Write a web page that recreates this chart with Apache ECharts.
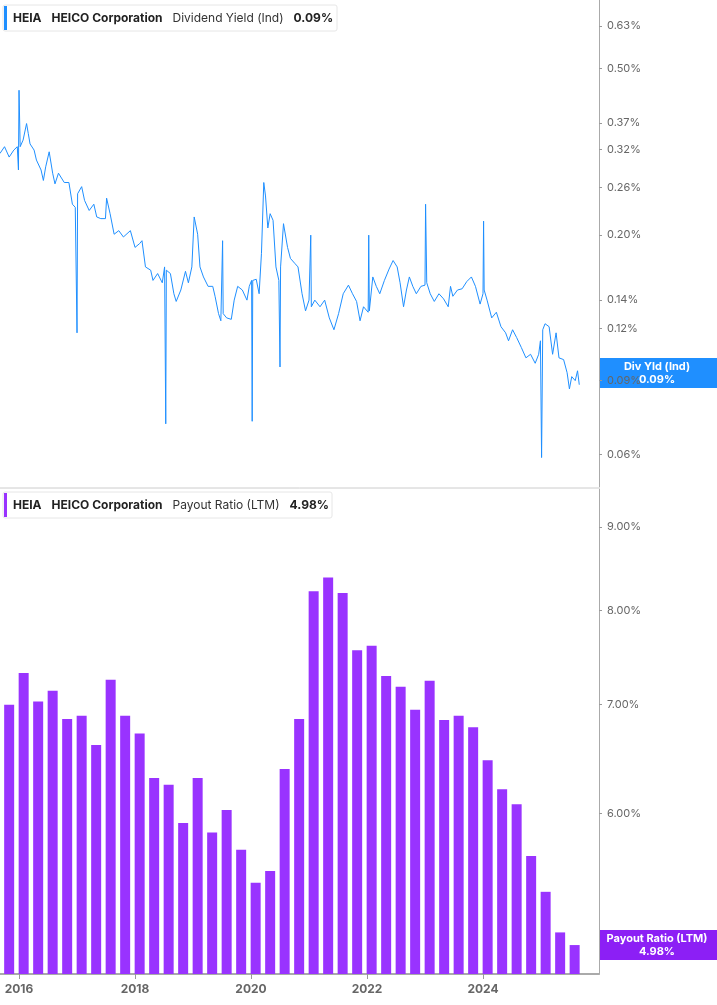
<!DOCTYPE html>
<html><head><meta charset="utf-8">
<script src="https://cdn.jsdelivr.net/npm/echarts@6/dist/echarts.min.js"></script>
<style>html,body{margin:0;padding:0;background:#fff}#c{width:717px;height:1005px}</style>
</head><body><div id="c"></div>
<script>
const yieldDates = [2015.67,2015.75,2015.83,2015.91,2015.97,2015.99,2016.00,2016.02,2016.07,2016.13,2016.16,2016.19,2016.26,2016.30,2016.38,2016.42,2016.46,2016.52,2016.58,2016.62,2016.68,2016.78,2016.86,2016.92,2016.97,2017.00,2017.01,2017.08,2017.13,2017.21,2017.29,2017.34,2017.41,2017.49,2017.51,2017.57,2017.64,2017.72,2017.80,2017.92,2018.00,2018.08,2018.12,2018.18,2018.27,2018.31,2018.39,2018.47,2018.51,2018.53,2018.54,2018.61,2018.67,2018.71,2018.79,2018.87,2018.92,2018.98,2019.02,2019.08,2019.12,2019.18,2019.26,2019.34,2019.38,2019.44,2019.48,2019.51,2019.52,2019.58,2019.66,2019.71,2019.77,2019.85,2019.93,2019.97,2020.01,2020.02,2020.03,2020.09,2020.14,2020.18,2020.22,2020.25,2020.29,2020.33,2020.38,2020.43,2020.48,2020.50,2020.51,2020.56,2020.63,2020.68,2020.76,2020.81,2020.88,2020.94,2021.00,2021.03,2021.04,2021.10,2021.19,2021.27,2021.35,2021.43,2021.51,2021.59,2021.68,2021.75,2021.82,2021.88,2021.94,2022.02,2022.03,2022.04,2022.10,2022.16,2022.22,2022.30,2022.38,2022.45,2022.52,2022.57,2022.63,2022.68,2022.73,2022.79,2022.85,2022.93,2023.00,2023.01,2023.03,2023.09,2023.16,2023.24,2023.32,2023.40,2023.44,2023.48,2023.56,2023.64,2023.72,2023.80,2023.87,2023.95,2024.00,2024.01,2024.02,2024.07,2024.15,2024.23,2024.31,2024.39,2024.44,2024.51,2024.58,2024.66,2024.74,2024.82,2024.90,2024.96,2024.99,2025.01,2025.03,2025.07,2025.14,2025.20,2025.26,2025.31,2025.39,2025.45,2025.49,2025.53,2025.59,2025.63,2025.66];
const yieldValues = [0.313,0.325,0.307,0.319,0.325,0.286,0.443,0.325,0.337,0.369,0.349,0.330,0.319,0.302,0.286,0.270,0.291,0.316,0.281,0.265,0.281,0.267,0.267,0.237,0.233,0.117,0.251,0.261,0.242,0.229,0.237,0.221,0.219,0.219,0.245,0.225,0.201,0.205,0.198,0.205,0.187,0.191,0.194,0.168,0.165,0.156,0.162,0.154,0.168,0.071,0.165,0.162,0.145,0.139,0.148,0.164,0.154,0.168,0.221,0.201,0.168,0.159,0.151,0.151,0.143,0.130,0.125,0.194,0.130,0.127,0.126,0.140,0.151,0.148,0.140,0.151,0.156,0.072,0.156,0.157,0.145,0.181,0.267,0.248,0.208,0.225,0.217,0.168,0.156,0.097,0.168,0.213,0.187,0.176,0.171,0.168,0.145,0.132,0.140,0.200,0.135,0.140,0.135,0.140,0.127,0.119,0.130,0.145,0.152,0.145,0.139,0.125,0.135,0.131,0.200,0.132,0.159,0.151,0.145,0.156,0.166,0.174,0.168,0.154,0.135,0.148,0.159,0.151,0.145,0.151,0.152,0.237,0.154,0.145,0.139,0.145,0.141,0.135,0.151,0.143,0.148,0.149,0.155,0.159,0.151,0.137,0.145,0.216,0.148,0.140,0.127,0.131,0.121,0.117,0.112,0.119,0.114,0.108,0.102,0.104,0.099,0.104,0.112,0.059,0.119,0.123,0.121,0.104,0.117,0.102,0.101,0.094,0.086,0.092,0.090,0.095,0.088];
const payoutDates = [2015.83,2016.08,2016.33,2016.58,2016.83,2017.08,2017.33,2017.58,2017.83,2018.08,2018.33,2018.58,2018.83,2019.08,2019.33,2019.58,2019.83,2020.08,2020.33,2020.58,2020.83,2021.08,2021.33,2021.58,2021.83,2022.08,2022.33,2022.58,2022.83,2023.08,2023.33,2023.58,2023.83,2024.08,2024.33,2024.58,2024.83,2025.08,2025.33,2025.58];
const payoutValues = [7.00,7.32,7.03,7.14,6.86,6.89,6.61,7.25,6.89,6.72,6.31,6.25,5.92,6.31,5.84,6.03,5.70,5.44,5.53,6.39,6.86,8.22,8.38,8.20,7.56,7.61,7.29,7.18,6.95,7.24,6.85,6.89,6.78,6.47,6.21,6.08,5.65,5.37,5.07,4.98];
const yieldTicks = [0.06,0.09,0.12,0.14,0.20,0.26,0.32,0.37,0.50,0.63];
const payoutTicks = [6,7,8,9];
const yearTicks = [2016,2018,2020,2022,2024];

const BLUE='#1f8fff', PURPLE='#9933ff';
const chart = echarts.init(document.getElementById('c'));
const pct = v => (+v).toFixed(2)+'%';
const yAxisCommon = {
  type:'log', position:'right', logBase:10,
  axisLine:{show:true,lineStyle:{color:'#aaa'}},
  axisTick:{show:true,length:3,lineStyle:{color:'#999'}},
  splitLine:{show:false},
  axisLabel:{color:'#666',fontSize:11,fontFamily:'Inter',formatter:pct,margin:8}
};
chart.setOption({
  animation:false,
  grid:[{left:0,right:118,top:0,height:487},{left:0,right:118,top:489,bottom:31}],
  xAxis:[
    {gridIndex:0,type:'value',min:2015.672,max:2026,axisLine:{show:false},axisTick:{show:false},axisLabel:{show:false},splitLine:{show:false}},
    {gridIndex:1,type:'value',min:2015.672,max:2026,axisLine:{show:true,lineStyle:{color:'#aaa',width:2}},
     axisTick:{show:true,customValues:yearTicks,length:5,lineStyle:{color:'#999'}},
     axisLabel:{customValues:yearTicks,color:'#666',fontWeight:'bold',fontSize:12,fontFamily:'Inter',formatter:v=>String(Math.round(v)),margin:9},
     splitLine:{show:false}}
  ],
  yAxis:[
    Object.assign({},yAxisCommon,{gridIndex:0,min:0.0502,max:0.727,axisTick:Object.assign({},yAxisCommon.axisTick,{customValues:yieldTicks}),axisLabel:Object.assign({},yAxisCommon.axisLabel,{customValues:yieldTicks})}),
    Object.assign({},yAxisCommon,{gridIndex:1,min:4.78,max:9.5,axisTick:Object.assign({},yAxisCommon.axisTick,{customValues:payoutTicks}),axisLabel:Object.assign({},yAxisCommon.axisLabel,{customValues:payoutTicks})})
  ],
  series:[
    {type:'line',xAxisIndex:0,yAxisIndex:0,data:yieldDates.map((d,i)=>[d,yieldValues[i]]),showSymbol:false,lineStyle:{color:BLUE,width:1},itemStyle:{color:BLUE}},
    {type:'bar',xAxisIndex:1,yAxisIndex:1,data:payoutDates.map((d,i)=>[d,payoutValues[i]]),barWidth:10,itemStyle:{color:PURPLE}}
  ],
  graphic:[
    {type:'line',shape:{x1:0,y1:488,x2:599,y2:488},style:{stroke:'#ccc',lineWidth:1}},
    {type:'rect',shape:{x:3,y:5,width:334,height:26,r:2},style:{fill:'#fff',stroke:'#e6e6e6'}},
    {type:'rect',shape:{x:4,y:6,width:3,height:24},style:{fill:BLUE}},
    {type:'text',x:13,y:18,style:{text:'{b|HEIA}   {b|HEICO Corporation}   {n|Dividend Yield (Ind)}   {b|0.09%}',verticalAlign:'middle',rich:{b:{fontWeight:'bold',fontSize:12,fill:'#222',fontFamily:'Inter'},n:{fontSize:12,fill:'#333',fontFamily:'Inter'}}}},
    {type:'rect',shape:{x:3,y:492,width:329,height:26,r:2},style:{fill:'#fff',stroke:'#e6e6e6'}},
    {type:'rect',shape:{x:4,y:493,width:3,height:24},style:{fill:PURPLE}},
    {type:'text',x:13,y:505,style:{text:'{b|HEIA}   {b|HEICO Corporation}   {n|Payout Ratio (LTM)}   {b|4.98%}',verticalAlign:'middle',rich:{b:{fontWeight:'bold',fontSize:12,fill:'#222',fontFamily:'Inter'},n:{fontSize:12,fill:'#333',fontFamily:'Inter'}}}},
    {type:'rect',shape:{x:599,y:358,width:118,height:30},style:{fill:BLUE}},
    {type:'text',x:657,y:373,style:{text:'Div Yld (Ind)\n0.09%',align:'center',verticalAlign:'middle',fill:'#fff',fontWeight:'bold',fontSize:11,lineHeight:13,fontFamily:'Inter'}},
    {type:'rect',shape:{x:599,y:930,width:118,height:30},style:{fill:'#8c1ff5'}},
    {type:'text',x:657,y:945,style:{text:'Payout Ratio (LTM)\n4.98%',align:'center',verticalAlign:'middle',fill:'#fff',fontWeight:'bold',fontSize:11,lineHeight:13,fontFamily:'Inter'}}
  ]
});
</script></body></html>
